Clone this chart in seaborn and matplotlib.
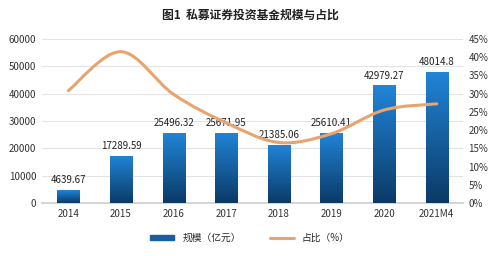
import numpy as np
import pandas as pd
import matplotlib
matplotlib.use("Agg")
import matplotlib.pyplot as plt
import seaborn as sns
from matplotlib.path import Path
from matplotlib.patches import PathPatch, Patch
from matplotlib.lines import Line2D
from matplotlib.colors import LinearSegmentedColormap

# ---------- data ----------
years = ["2014", "2015", "2016", "2017", "2018", "2019", "2020", "2021M4"]
scale = [4639.67, 17289.59, 25496.32, 25671.95, 21385.06, 25610.41, 42979.27, 48014.8]
scale_labels = ["4639.67", "17289.59", "25496.32", "25671.95", "21385.06",
                "25610.41", "42979.27", "48014.8"]
share = [30.8, 41.5, 29.8, 22.0, 16.6, 19.0, 25.5, 27.2]   # %

df = pd.DataFrame({"year": years, "scale": scale, "share": share})

sns.set_theme(style="white")
plt.rcParams["font.family"] = ["Noto Sans CJK SC", "DejaVu Sans"]

fig = plt.figure(figsize=(5, 2.56), dpi=100)
ax = fig.add_axes([0.084, 0.207, 0.842, 0.641])

# ---------- bars ----------
sns.barplot(data=df, x="year", y="scale", color="#1a6fb8", width=0.42, ax=ax, zorder=2)
ax.set_ylim(0, 60000)
ax.set_yticks(range(0, 60001, 10000))
ax.grid(axis="y", color="#e3e3e3", lw=0.8, zorder=0)
ax.set_axisbelow(True)

# gradient fill on each bar
cmap = LinearSegmentedColormap.from_list("g", ["#0b3a66", "#2185d8"])
grad = np.linspace(0, 1, 256).reshape(-1, 1)
for p in ax.patches:
    x0, y0 = p.get_x(), p.get_y()
    w, h = p.get_width(), p.get_height()
    im = ax.imshow(grad, cmap=cmap, aspect="auto", origin="lower",
                   extent=[x0, x0 + w, y0, y0 + h], zorder=3)
    im.set_clip_path(p)
    p.set_alpha(0)

for i, v in enumerate(scale):
    ax.text(i, v + 1800, scale_labels[i], ha="center", va="bottom",
            fontsize=7, color="#222222", zorder=5)

ax.set_xlim(-0.5, len(years) - 0.5)
ax.set_xlabel("")
ax.set_ylabel("")
ax.tick_params(axis="both", labelsize=7, colors="#333333", length=0, pad=4)
for s in ["top", "right", "left"]:
    ax.spines[s].set_visible(False)
ax.spines["bottom"].set_color("#d0d0d0")

# ---------- share line (smoothed, right axis) ----------
ax2 = ax.twinx()
ax2.set_ylim(0, 45)
ax2.set_yticks(range(0, 46, 5))
ax2.set_yticklabels([f"{t}%" for t in range(0, 46, 5)])
ax2.tick_params(axis="y", labelsize=7, colors="#333333", length=0, pad=4)
for s in ax2.spines.values():
    s.set_visible(False)
ax2.grid(False)

xs = np.arange(len(years), dtype=float)
ys = np.array(share)
verts = [(xs[0], ys[0])]
codes = [Path.MOVETO]
t = 1 / 6
for i in range(len(xs) - 1):
    p0 = (xs[max(i - 1, 0)], ys[max(i - 1, 0)])
    p1 = (xs[i], ys[i])
    p2 = (xs[i + 1], ys[i + 1])
    p3 = (xs[min(i + 2, len(xs) - 1)], ys[min(i + 2, len(xs) - 1)])
    c1 = (p1[0] + (p2[0] - p0[0]) * t, p1[1] + (p2[1] - p0[1]) * t)
    c2 = (p2[0] - (p3[0] - p1[0]) * t, p2[1] - (p3[1] - p1[1]) * t)
    verts += [c1, c2, p2]
    codes += [Path.CURVE4] * 3
ax2.add_patch(PathPatch(Path(verts, codes), fill=False, edgecolor="#e8a46f",
                        lw=2.2, zorder=4, capstyle="round"))
ax2.set_xlim(-0.5, len(years) - 0.5)

# ---------- title & legend ----------
fig.text(0.5, 0.94, "图1  私募证券投资基金规模与占比", ha="center", va="center",
         fontsize=8.5, fontweight="bold", color="#222222")

handles = [Patch(color="#1a5e9e"), Line2D([0], [0], color="#e8a46f", lw=2.2)]
fig.legend(handles, ["规模（亿元）", "占比（%）"], loc="center", bbox_to_anchor=(0.5, 0.07),
           ncol=2, frameon=False, fontsize=7, handlelength=2.5, handleheight=0.4,
           columnspacing=3)

fig.savefig("out.png", dpi=100)
